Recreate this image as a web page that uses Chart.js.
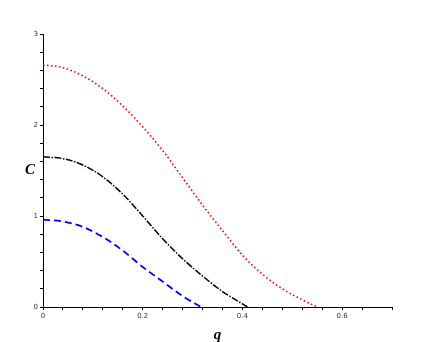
<!DOCTYPE html>
<html>
<head>
<meta charset="utf-8">
<script src="https://cdn.jsdelivr.net/npm/chart.js@4"></script>
<style>
    html, body { margin: 0; padding: 0; background: #fff; }
    #wrap { width: 436px; height: 342px; }
</style>
</head>
<body>
<div id="wrap"><canvas id="chart" width="436" height="342"></canvas></div>
<script>
// values
const redQ   = [0, 0.04, 0.08, 0.12, 0.16, 0.2, 0.24, 0.28, 0.32, 0.36, 0.4, 0.44, 0.48, 0.52, 0.55];
const redC   = [2.66, 2.63, 2.54, 2.40, 2.21, 1.98, 1.72, 1.42, 1.12, 0.84, 0.57, 0.36, 0.20, 0.08, 0];
const blackQ = [0, 0.04, 0.08, 0.12, 0.16, 0.2, 0.24, 0.28, 0.32, 0.36, 0.38, 0.41];
const blackC = [1.65, 1.63, 1.56, 1.43, 1.24, 1.00, 0.75, 0.53, 0.34, 0.17, 0.10, 0];
const blueQ  = [0, 0.04, 0.08, 0.12, 0.16, 0.2, 0.24, 0.28, 0.317];
const blueC  = [0.96, 0.94, 0.88, 0.77, 0.62, 0.44, 0.28, 0.12, 0];

const xMajor = [0, 0.2, 0.4, 0.6];
const yMajor = [0, 1, 2, 3];

function toPoints(xs, ys) {
    return xs.map((x, i) => ({ x: x, y: ys[i] }));
}

function isMajor(v, list) {
    return list.some(m => Math.abs(m - v) < 1e-6);
}

// axis letters drawn unrotated, like the original
const axisLetters = {
    id: 'axisLetters',
    afterDraw(chart) {
        const ctx = chart.ctx;
        const area = chart.chartArea;
        ctx.save();
        ctx.fillStyle = '#000';
        ctx.textAlign = 'center';
        ctx.textBaseline = 'middle';
        ctx.font = 'italic bold 15px "Liberation Serif"';
        ctx.fillText('C', area.left - 13, (area.top + area.bottom) / 2);
        ctx.fillText('q', (area.left + area.right) / 2, area.bottom + 28);
        ctx.restore();
    }
};

const ctx = document.getElementById('chart').getContext('2d');
new Chart(ctx, {
    type: 'scatter',
    data: {
        datasets: [
            {
                data: toPoints(redQ, redC),
                showLine: true,
                borderColor: '#ff0000',
                borderWidth: 1.6,
                borderDash: [1.6, 2.4],
                pointRadius: 0,
                cubicInterpolationMode: 'monotone'
            },
            {
                data: toPoints(blackQ, blackC),
                showLine: true,
                borderColor: '#000000',
                borderWidth: 1.5,
                borderDash: [7, 1.5, 1.5, 1.5],
                pointRadius: 0,
                cubicInterpolationMode: 'monotone'
            },
            {
                data: toPoints(blueQ, blueC),
                showLine: true,
                borderColor: '#0000ff',
                borderWidth: 1.8,
                borderDash: [7, 4],
                pointRadius: 0,
                cubicInterpolationMode: 'monotone'
            }
        ]
    },
    options: {
        responsive: false,
        animation: false,
        layout: { padding: { left: 0, right: 44, top: 34, bottom: 0 } },
        plugins: {
            legend: { display: false },
            tooltip: { enabled: false }
        },
        scales: {
            x: {
                type: 'linear',
                min: 0,
                max: 0.7,
                afterFit: (scale) => { scale.height = 35; },
                border: { display: true, color: '#000', width: 1 },
                grid: { drawOnChartArea: false, drawTicks: true, tickLength: 3, color: '#000' },
                ticks: {
                    stepSize: 0.04,
                    autoSkip: false,
                    maxRotation: 0,
                    padding: 2,
                    color: '#333',
                    font: { family: 'DejaVu Sans', size: 7 },
                    callback: (v) => isMajor(v, xMajor) ? String(Math.round(v * 10) / 10) : ''
                }
            },
            y: {
                type: 'linear',
                min: 0,
                max: 3,
                afterFit: (scale) => { scale.width = 43; },
                border: { display: true, color: '#000', width: 1 },
                grid: { drawOnChartArea: false, drawTicks: true, tickLength: 3, color: '#000' },
                ticks: {
                    stepSize: 0.2,
                    autoSkip: false,
                    padding: 2,
                    color: '#333',
                    font: { family: 'DejaVu Sans', size: 7 },
                    callback: (v) => isMajor(v, yMajor) ? String(Math.round(v)) : ''
                }
            }
        }
    },
    plugins: [axisLetters]
});
</script>
</body>
</html>
